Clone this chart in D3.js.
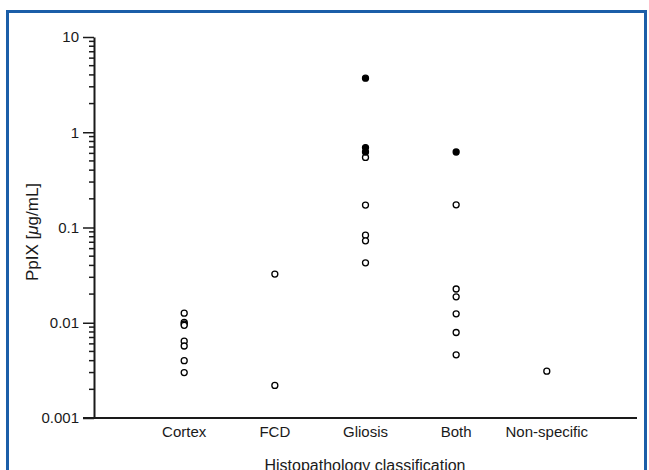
<!DOCTYPE html>
<html lang="en">
	<head>
		<meta charset="utf-8">
		<title>PpIX by histopathology</title>
		<script type="text/javascript" src="https://cdn.jsdelivr.net/npm/d3@7"></script>
		<style type="text/css">
			body { margin: 0; background: #fff; }
			text { font-family: Arial, "Liberation Sans", sans-serif; fill: #1a1a1a; }
		</style>
	</head>
	<body>
		<script type="text/javascript">

			//Categories on the x axis
			var categories = ["Cortex", "FCD", "Gliosis", "Both", "Non-specific"];

			//PpIX values (ug/mL) per category, open circles
			var cortexOpen = [0.0126, 0.0101, 0.0097, 0.0094, 0.0064, 0.0057, 0.0040, 0.0030];
			var fcdOpen = [0.0324, 0.0022];
			var gliosisOpen = [0.544, 0.172, 0.083, 0.0725, 0.0426];
			var bothOpen = [0.173, 0.0226, 0.0187, 0.0124, 0.0079, 0.0046];
			var nonSpecificOpen = [0.0031];

			//Filled circles
			var gliosisFilled = [3.70, 0.69, 0.62];
			var bothFilled = [0.62];

			//Y tick labels
			var yTicks = [0.001, 0.01, 0.1, 1, 10];
			var yTickLabels = ["0.001", "0.01", "0.1", "1", "10"];

			var w = 649;
			var h = 470;

			//Build point list
			var dataset = [];
			var addPoints = function(cat, values, filled) {
				values.forEach(function(v) {
					dataset.push({ cat: cat, value: v, filled: filled });
				});
			};
			addPoints("Cortex", cortexOpen, false);
			addPoints("FCD", fcdOpen, false);
			addPoints("Gliosis", gliosisOpen, false);
			addPoints("Both", bothOpen, false);
			addPoints("Non-specific", nonSpecificOpen, false);
			addPoints("Gliosis", gliosisFilled, true);
			addPoints("Both", bothFilled, true);

			var svg = d3.select("body")
						.append("svg")
						.attr("width", w)
						.attr("height", h);

			//Blue frame
			svg.append("path")
				.attr("d", "M7.5," + h + "V11.5H645.5V" + h)
				.attr("fill", "none")
				.attr("stroke", "#1b5ea8")
				.attr("stroke-width", 3);

			//Scales
			var xScale = d3.scalePoint()
						.domain(categories)
						.range([94, 637])
						.padding(0.995);

			var yScale = d3.scaleLog()
						.domain([0.001, 10])
						.range([418, 37]);

			//Minor ticks
			var minorTicks = yScale.ticks().filter(function(d) {
				return yTicks.indexOf(d) < 0;
			});
			svg.append("g")
				.attr("transform", "translate(94,0)")
				.selectAll("line")
				.data(minorTicks)
				.enter()
				.append("line")
				.attr("x1", -5)
				.attr("x2", 0)
				.attr("y1", function(d) { return yScale(d); })
				.attr("y2", function(d) { return yScale(d); })
				.attr("stroke", "#1a1a1a")
				.attr("stroke-width", 1.5);

			//Y axis
			var yAxis = d3.axisLeft(yScale)
						.tickValues(yTicks)
						.tickFormat(function(d, i) { return yTickLabels[i]; })
						.tickSize(11)
						.tickSizeOuter(0)
						.tickPadding(4);

			var gy = svg.append("g")
				.attr("transform", "translate(94,0)")
				.call(yAxis);
			gy.selectAll("line").attr("stroke", "#1a1a1a").attr("stroke-width", 1.5);
			gy.select(".domain").attr("stroke", "#1a1a1a").attr("stroke-width", 2);
			gy.selectAll("text").attr("font-size", "15px").attr("font-family", null);

			//X axis line
			svg.append("line")
				.attr("x1", 83)
				.attr("x2", 637)
				.attr("y1", yScale(0.001))
				.attr("y2", yScale(0.001))
				.attr("stroke", "#1a1a1a")
				.attr("stroke-width", 2);

			//Category labels
			svg.selectAll("text.cat")
				.data(categories)
				.enter()
				.append("text")
				.attr("class", "cat")
				.attr("x", function(d) { return xScale(d); })
				.attr("y", 437)
				.attr("text-anchor", "middle")
				.attr("font-size", "15px")
				.text(function(d) { return d; });

			//Axis titles
			svg.append("text")
				.attr("x", 365)
				.attr("y", 471)
				.attr("text-anchor", "middle")
				.attr("font-size", "16px")
				.text("Histopathology classification");

			var yTitle = svg.append("text")
				.attr("transform", "translate(38,232) rotate(-90)")
				.attr("text-anchor", "middle")
				.attr("font-size", "17px");
			yTitle.append("tspan").text("PpIX [");
			yTitle.append("tspan").attr("font-style", "italic").text("\u03bc");
			yTitle.append("tspan").text("g/mL]");

			//Points
			svg.selectAll("circle")
				.data(dataset)
				.enter()
				.append("circle")
				.attr("cx", function(d) { return xScale(d.cat); })
				.attr("cy", function(d) { return yScale(d.value); })
				.attr("r", 3)
				.attr("fill", function(d) { return d.filled ? "#000" : "#fff"; })
				.attr("stroke", "#000")
				.attr("stroke-width", 1.3);

		</script>
	</body>
</html>
